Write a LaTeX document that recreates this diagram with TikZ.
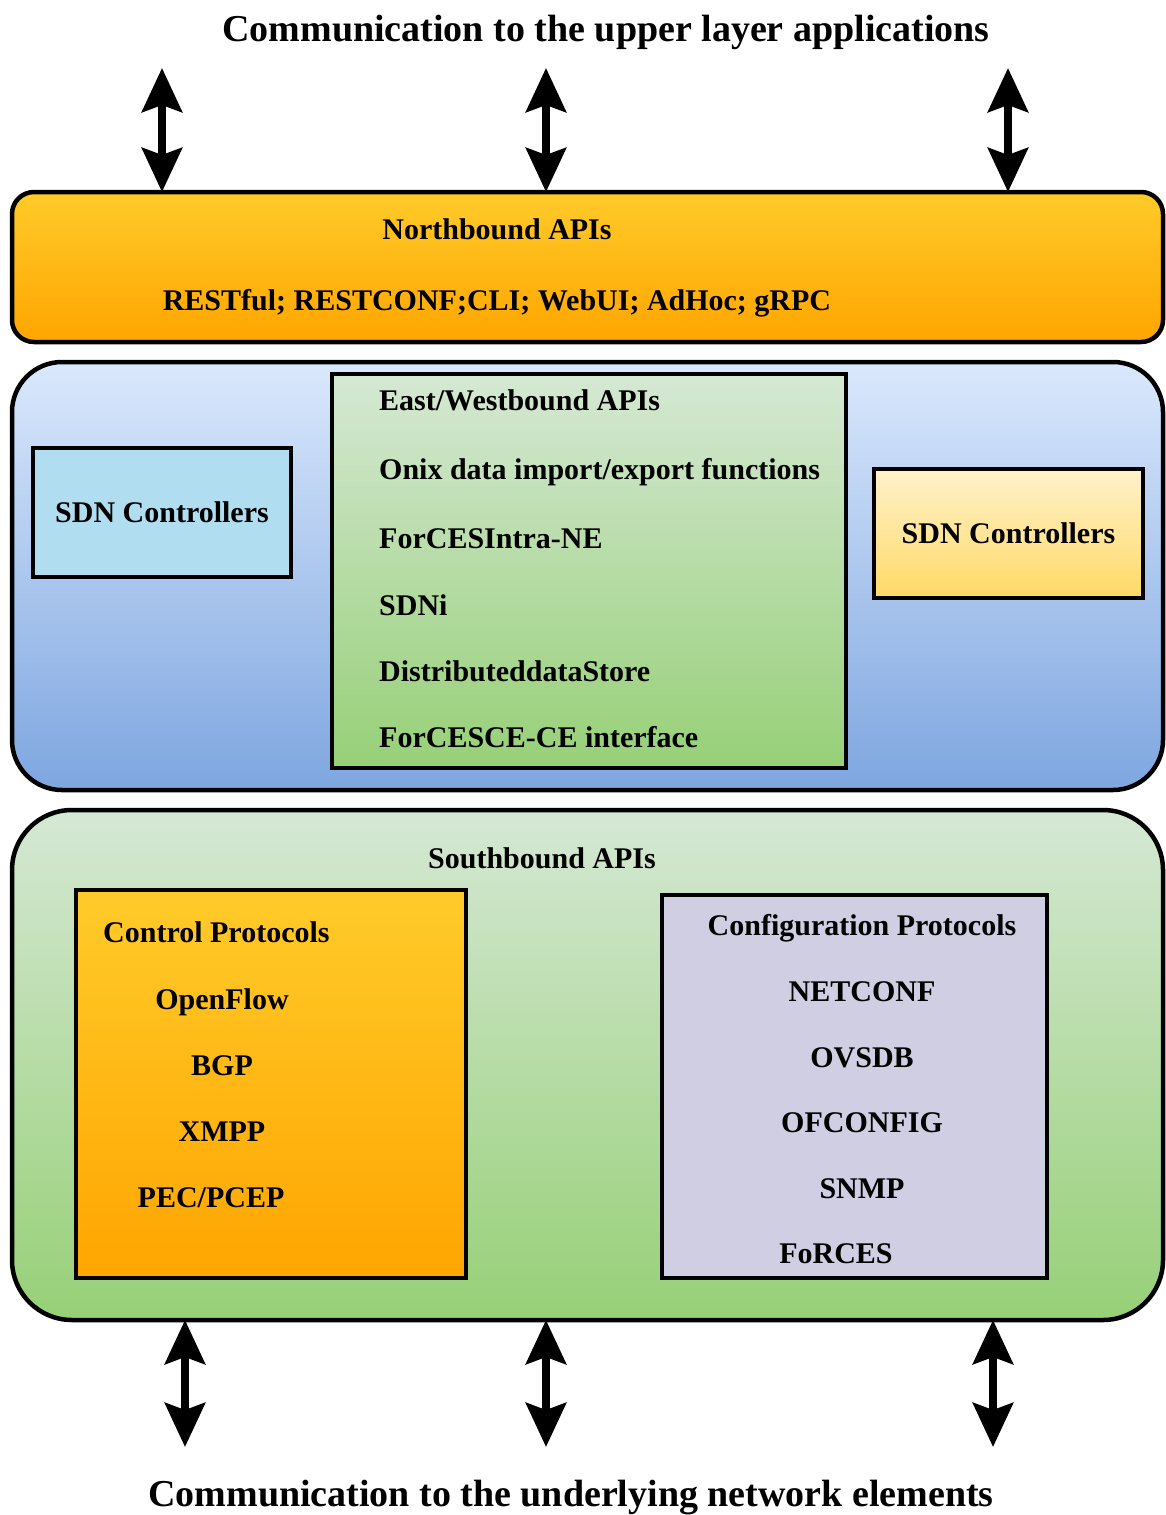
\documentclass[tikz,border=0pt]{standalone}
\usepackage{fontspec}
\setmainfont{Liberation Serif}
\usetikzlibrary{arrows.meta}
\definecolor{orangetop}{HTML}{FFCB2A}
\definecolor{orangebot}{HTML}{FFA500}
\definecolor{bluetop}{HTML}{DAE8FC}
\definecolor{bluebot}{HTML}{7EA6E0}
\definecolor{greentop}{HTML}{D5E8D4}
\definecolor{greenbot}{HTML}{97D077}
\definecolor{yellowtop}{HTML}{FFF2CC}
\definecolor{yellowbot}{HTML}{FFD966}
\definecolor{lightblue}{HTML}{B1DDF0}
\definecolor{lilac}{HTML}{D0CEE2}
\begin{document}
\begin{tikzpicture}[x=1pt,y=-1pt,
  frame/.style={draw=black, line width=4.5pt, rectangle, inner sep=0pt, outer sep=0pt},
  layer/.style={frame, rounded corners=#1},
  txt/.style={inner sep=0pt, text height=20pt, text depth=0pt,
    font=\fontsize{30}{36}\selectfont\bfseries},
  title/.style={txt, text height=25pt, font=\fontsize{38}{44}\selectfont\bfseries},
  biarrow/.style={line width=8pt,
    {Stealth[length=44pt,width=40pt,inset=7pt]}-{Stealth[length=44pt,width=40pt,inset=7pt]}}
]
\useasboundingbox (0,0) rectangle (1166,1515);

% titles
\node[title] (top) at (606,29) {Communication to the upper layer applications};
\node[title] (bottom) at (571,1494) {Communication to the underlying network elements};

% northbound layer
\node[layer=22pt, top color=orangetop, bottom color=orangebot,
      minimum width=1151pt, minimum height=150pt] (nb) at (587.5,267) {};
\node[txt] (nbtitle) at (497,229) {Northbound APIs};
\node[txt] (nblist) at (497,300) {RESTful; RESTCONF;CLI; WebUI; AdHoc; gRPC};

% controller layer
\node[layer=50pt, top color=bluetop, bottom color=bluebot,
      minimum width=1151pt, minimum height=428pt] (mid) at (587.5,576) {};
\node[frame, fill=lightblue, minimum width=258pt, minimum height=129pt, txt]
  (sdnl) at (162,512.5) {SDN Controllers};
\node[frame, top color=yellowtop, bottom color=yellowbot,
      minimum width=269pt, minimum height=129pt, txt]
  (sdnr) at (1008.5,533.5) {SDN Controllers};
\node[frame, top color=greentop, bottom color=greenbot,
      minimum width=514pt, minimum height=394pt] (ew) at (589,571) {};
\node[txt, anchor=west] (ew1) at (379,400) {East/Westbound APIs};
\node[txt, anchor=west] (ew2) at (379,469) {Onix data import/export functions};
\node[txt, anchor=west] (ew3) at (379,538) {ForCESIntra-NE};
\node[txt, anchor=west] (ew4) at (379,605) {SDNi};
\node[txt, anchor=west] (ew5) at (379,671) {DistributeddataStore};
\node[txt, anchor=west] (ew6) at (379,737) {ForCESCE-CE interface};

% southbound layer
\node[layer=60pt, top color=greentop, bottom color=greenbot,
      minimum width=1151pt, minimum height=510pt] (sb) at (587.5,1065) {};
\node[txt] (sbtitle) at (542,858) {Southbound APIs};

\node[frame, top color=orangetop, bottom color=orangebot,
      minimum width=390pt, minimum height=388pt] (ctrl) at (271,1084) {};
\node[txt, anchor=west] (ctrlt) at (103,932) {Control Protocols};
\node[txt] (c1) at (222,999) {OpenFlow};
\node[txt] (c2) at (222,1065) {BGP};
\node[txt] (c3) at (222,1131) {XMPP};
\node[txt] (c4) at (211,1197) {PEC/PCEP};

\node[frame, fill=lilac, minimum width=385pt, minimum height=383pt] (conf) at (854.5,1086.5) {};
\node[txt] (conft) at (862,925) {Configuration Protocols};
\node[txt] (f1) at (862,991) {NETCONF};
\node[txt] (f2) at (862,1057) {OVSDB};
\node[txt] (f3) at (862,1122) {OFCONFIG};
\node[txt] (f4) at (862,1188) {SNMP};
\node[txt] (f5) at (836,1253) {FoRCES};

% arrows to the applications above
\coordinate (ua) at (162,68);
\coordinate (ub) at (546,68);
\coordinate (uc) at (1008,68);
\foreach \p in {ua,ub,uc}
  \draw[biarrow] (\p) -- (\p |- nb.north);

% arrows to the network elements below
\coordinate (la) at (185,1447);
\coordinate (lb) at (546,1447);
\coordinate (lc) at (993,1447);
\foreach \p in {la,lb,lc}
  \draw[biarrow] (\p |- sb.south) -- (\p);
\end{tikzpicture}
\end{document}
